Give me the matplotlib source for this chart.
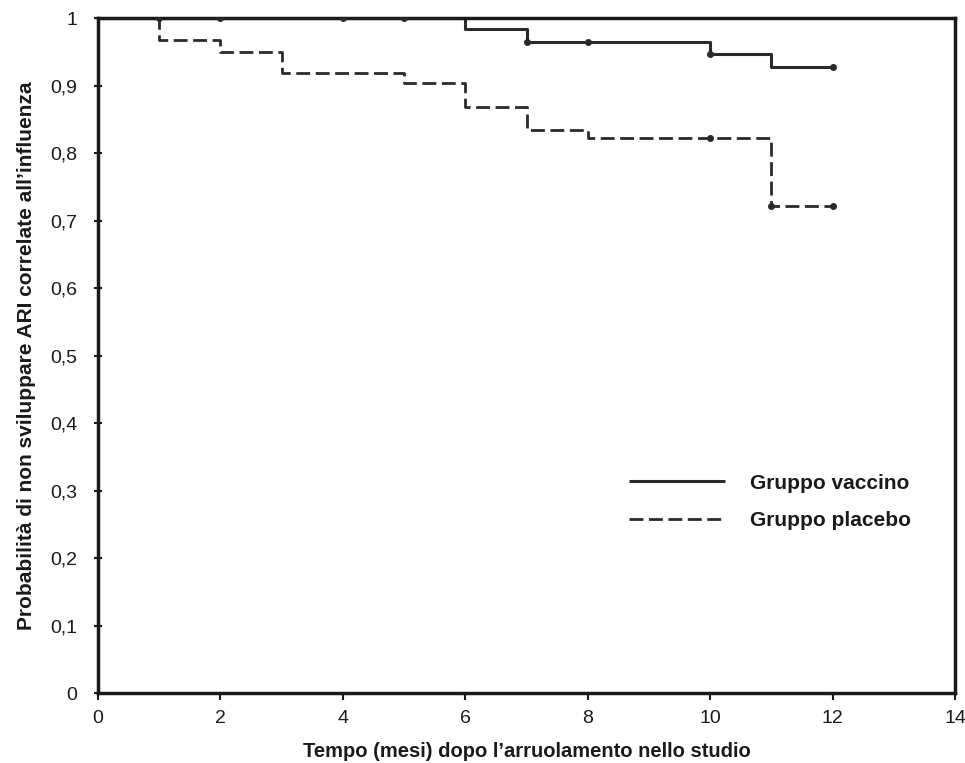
import numpy as np
import matplotlib
matplotlib.use("Agg")
import matplotlib.pyplot as plt
from matplotlib.ticker import FuncFormatter

# Data
vacc_t = [0, 6, 7, 10, 11, 12]
vacc_s = [1.0, 0.983, 0.965, 0.946, 0.927, 0.927]
vacc_cens = [1, 2, 4, 5, 7, 8, 10, 12]

plac_t = [0, 1, 2, 3, 5, 6, 7, 8, 11, 12]
plac_s = [1.0, 0.968, 0.949, 0.918, 0.903, 0.868, 0.834, 0.822, 0.721, 0.721]
plac_cens = [10, 11, 12]

x_ticks = [0, 2, 4, 6, 8, 10, 12, 14]
y_ticks = [0, 0.1, 0.2, 0.3, 0.4, 0.5, 0.6, 0.7, 0.8, 0.9, 1.0]

labels = ["Gruppo vaccino", "Gruppo placebo"]
xlabel = "Tempo (mesi) dopo l\u2019arruolamento nello studio"
ylabel = "Probabilit\u00e0 di non sviluppare ARI correlate all\u2019influenza"


def step_value(times, surv, t):
    idx = np.searchsorted(times, t, side="right") - 1
    return surv[idx]


plt.rcParams['font.family'] = ['Liberation Sans', 'DejaVu Sans']

fig = plt.figure(figsize=(9.65, 7.63), dpi=100)
ax = fig.add_axes([0.1016, 0.0917, 0.888, 0.8847])

col = "#2a2a2a"
ax.plot(vacc_t, vacc_s, drawstyle="steps-post", color=col, lw=2.2,
        label=labels[0], solid_capstyle="butt")
ax.plot(plac_t, plac_s, drawstyle="steps-post", color=col, lw=2.0,
        linestyle=(0, (5, 2)), label=labels[1])

ax.plot(vacc_cens, [step_value(vacc_t, vacc_s, t) for t in vacc_cens],
        'o', color=col, ms=4, zorder=5)
ax.plot(plac_cens, [step_value(plac_t, plac_s, t) for t in plac_cens],
        'o', color=col, ms=4, zorder=5)

ax.set_xlim(0, 14)
ax.set_ylim(0, 1)
ax.set_xticks(x_ticks)
ax.set_yticks(y_ticks)
ax.yaxis.set_major_formatter(FuncFormatter(
    lambda v, p: "0" if v == 0 else ("1" if v == 1 else f"{v:.1f}".replace(".", ","))))

for s in ax.spines.values():
    s.set_linewidth(2.5)
    s.set_color("#1a1a1a")

ax.tick_params(axis="y", direction="inout", length=6, width=1.5, pad=12,
               labelsize=14, colors="#1a1a1a")
ax.tick_params(axis="x", direction="out", length=5, width=1.5, pad=7,
               labelsize=14, colors="#1a1a1a")

ax.set_xlabel(xlabel, fontweight="bold", fontsize=14.5, labelpad=11, color="#1a1a1a")
ax.set_ylabel(ylabel, fontweight="bold", fontsize=15, labelpad=10, color="#1a1a1a")

leg = ax.legend(loc="center left", bbox_to_anchor=(0.62, 0.283), frameon=False,
                borderpad=0, borderaxespad=0, handlelength=4.6, handletextpad=1.2,
                labelspacing=0.9,
                prop={'weight': 'bold', 'size': 15})
for t in leg.get_texts():
    t.set_color("#1a1a1a")

fig.savefig("out.png", dpi=100)
